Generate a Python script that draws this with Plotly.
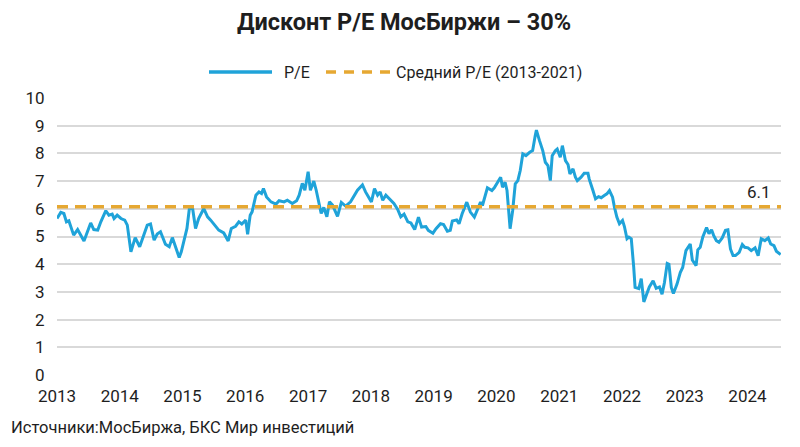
import plotly.graph_objects as go

dates = [
"2013-01-01","2013-01-23","2013-02-10","2013-02-25","2013-03-11","2013-04-08","2013-05-01","2013-06-07",
"2013-07-16","2013-08-03","2013-08-26","2013-09-13","2013-10-12","2013-10-30","2013-11-18","2013-11-29",
"2013-12-17","2014-01-08","2014-01-30","2014-02-14","2014-03-07","2014-04-01","2014-04-27","2014-05-19",
"2014-06-10","2014-06-29","2014-07-20","2014-08-07","2014-08-26","2014-09-24","2014-10-16","2014-11-03",
"2014-11-22","2014-12-13","2014-12-25","2015-01-12","2015-01-27","2015-02-10","2015-03-01","2015-03-18",
"2015-04-05","2015-05-05","2015-05-27","2015-06-14","2015-07-13","2015-07-31","2015-08-29","2015-09-24",
"2015-10-12","2015-11-06","2015-11-25","2015-12-12","2016-01-04","2016-01-15","2016-01-30","2016-02-10",
"2016-03-03","2016-03-21","2016-04-05","2016-04-16","2016-05-04","2016-05-30","2016-06-28","2016-07-16",
"2016-08-14","2016-09-02","2016-10-01","2016-10-26","2016-11-10","2016-11-28","2016-12-13","2017-01-01",
"2017-01-14","2017-02-03","2017-02-17","2017-03-08","2017-03-18","2017-04-02","2017-04-20","2017-05-05",
"2017-05-23","2017-06-21","2017-07-13","2017-08-07","2017-09-05","2017-10-15","2017-11-13","2017-12-01",
"2017-12-20","2018-01-04","2018-01-22","2018-02-09","2018-02-24","2018-03-11","2018-03-29","2018-04-27",
"2018-05-15","2018-06-06","2018-06-24","2018-07-13","2018-08-04","2018-08-22","2018-09-13","2018-10-05",
"2018-10-23","2018-11-17","2018-12-01","2018-12-28","2019-01-15","2019-02-10","2019-02-28","2019-03-22",
"2019-04-08","2019-04-20","2019-05-15","2019-05-29","2019-06-16","2019-07-13","2019-08-03","2019-08-26",
"2019-10-01","2019-10-12","2019-11-10","2019-12-06","2019-12-20","2020-01-26","2020-02-06","2020-02-21",
"2020-03-03","2020-03-11","2020-03-21","2020-04-05","2020-04-20","2020-05-05","2020-05-19","2020-06-03",
"2020-06-21","2020-07-13","2020-07-30","2020-08-14","2020-08-21","2020-09-08","2020-09-27","2020-10-12",
"2020-10-27","2020-11-10","2020-11-21","2020-12-09","2020-12-20","2021-01-07","2021-01-19","2021-02-06",
"2021-02-21","2021-03-04","2021-03-22","2021-04-05","2021-04-16","2021-05-08","2021-05-26","2021-06-17",
"2021-06-24","2021-07-16","2021-07-31","2021-08-18","2021-09-02","2021-09-20","2021-10-05","2021-10-20",
"2021-11-07","2021-11-18","2021-12-02","2021-12-17","2022-01-04","2022-01-15","2022-01-30","2022-02-10",
"2022-02-24","2022-03-10","2022-03-18","2022-04-09","2022-04-23","2022-05-08","2022-05-23","2022-06-09",
"2022-07-01","2022-07-19","2022-08-07","2022-08-22","2022-09-05","2022-09-21","2022-10-01","2022-10-15",
"2022-10-27","2022-11-17","2022-12-06","2022-12-20","2023-01-08","2023-01-19","2023-02-02","2023-02-14",
"2023-03-08","2023-03-18","2023-04-01","2023-04-16","2023-05-08","2023-05-22","2023-06-06","2023-06-18",
"2023-07-04","2023-07-19","2023-08-07","2023-08-26","2023-09-09","2023-09-24","2023-10-09","2023-10-23",
"2023-11-14","2023-12-02","2023-12-16","2024-01-04","2024-01-23","2024-02-14","2024-03-03","2024-03-21",
"2024-04-11","2024-05-01","2024-05-15","2024-06-03","2024-06-17","2024-07-12",
]

pe = [
5.65,5.87,5.83,5.53,5.57,5.05,5.25,4.84,
5.49,5.25,5.23,5.53,5.93,5.77,5.81,5.65,
5.77,5.65,5.59,5.41,4.45,4.96,4.63,5.05,
5.41,5.45,4.87,5.09,5.17,4.72,4.63,4.96,
4.63,4.24,4.45,4.87,5.29,6.01,6.01,5.29,
5.65,6.01,5.71,5.59,5.35,5.23,5.13,4.84,
5.29,5.37,5.53,5.45,5.59,5.08,5.77,5.89,
6.49,6.61,6.55,6.73,6.43,6.25,6.17,6.29,
6.25,6.31,6.19,6.29,6.49,6.92,6.67,7.34,
6.67,7.00,6.67,6.19,5.83,6.05,5.71,6.25,
6.13,5.73,6.23,6.10,6.25,6.67,6.86,6.61,
6.43,6.25,6.73,6.49,6.61,6.31,6.49,6.31,
6.19,5.98,5.71,5.81,5.53,5.49,5.25,5.70,
5.34,5.36,5.22,5.12,5.28,5.46,5.43,5.19,
5.22,5.56,5.60,5.46,5.82,6.24,5.88,5.70,
6.24,6.12,6.76,6.66,6.76,7.14,6.78,6.96,
6.66,6.06,5.28,5.94,6.90,7.02,7.38,7.98,
7.92,8.04,8.10,8.64,8.84,8.46,8.10,7.68,
7.56,7.02,7.92,8.10,8.16,7.86,8.28,7.74,
7.60,7.26,7.44,7.14,7.02,7.14,7.28,7.28,
7.08,6.66,6.36,6.44,6.40,6.48,6.54,6.66,
6.42,6.06,5.70,5.46,5.58,5.36,4.92,4.98,
4.92,3.90,3.16,3.12,3.48,2.64,2.88,3.18,
3.40,3.13,3.18,2.92,3.34,4.03,4.00,3.16,
2.94,3.28,3.70,3.88,4.49,4.61,4.73,4.15,
3.95,4.52,4.61,4.98,5.32,5.10,5.24,5.04,
4.85,4.79,4.95,5.22,5.24,4.55,4.31,4.31,
4.43,4.71,4.61,4.59,4.49,4.59,4.31,4.92,
4.85,4.95,4.73,4.67,4.47,4.35,
]

avg_value = 6.07
avg_label = "6.1"
avg_span = ["2013-01-01", "2024-07-14"]
year_ticks = ["2013-01-01","2014-01-01","2015-01-01","2016-01-01","2017-01-01","2018-01-01",
              "2019-01-01","2020-01-01","2021-01-01","2022-01-01","2023-01-01","2024-01-01"]
year_labels = ["2013","2014","2015","2016","2017","2018","2019","2020","2021","2022","2023","2024"]
y_ticks = [0,1,2,3,4,5,6,7,8,9,10]

title_text = "Дисконт P/E МосБиржи – 30%"
source_text = "Источники:МосБиржа, БКС Мир инвестиций"
series_name = "P/E"
avg_name = "Средний P/E (2013-2021)"

BLUE = "#1FA3D9"
ORANGE = "#E6A832"
TEXT = "#1E1E1E"
FONT = "Roboto, Inter, sans-serif"
DASH = "11px,7px"

# page body has an 8px margin, so the figure is 792x439
W, H = 792, 439
ML, MR, MT, MB = 49, 19, 90, 72
PW, PH = W - ML - MR, H - MT - MB

def px(fx):
    return (fx - ML) / PW

def py(fy):
    return 1 + (MT - fy) / PH

fig = go.Figure()
fig.add_trace(go.Scatter(
    x=dates, y=pe, mode="lines", name=series_name,
    line=dict(color=BLUE, width=3), showlegend=False,
))
fig.add_trace(go.Scatter(
    x=avg_span, y=[avg_value, avg_value], mode="lines",
    name=avg_name, showlegend=False,
    line=dict(color=ORANGE, width=3.5, dash=DASH),
))

fig.add_annotation(
    x=avg_span[1], y=avg_value, text=avg_label, showarrow=False,
    xanchor="right", yanchor="bottom", xshift=-8, yshift=3,
    font=dict(size=17, color=TEXT, family=FONT),
)

# legend drawn as shapes + text
LEG_Y = py(64)
fig.add_shape(type="line", xref="paper", yref="paper", x0=px(201), x1=px(264), y0=LEG_Y, y1=LEG_Y,
              line=dict(color=BLUE, width=3.5))
fig.add_annotation(x=px(274), y=LEG_Y, xref="paper", yref="paper", xanchor="left", yanchor="middle",
                   text=series_name, showarrow=False, font=dict(size=16, color=TEXT, family=FONT))
fig.add_shape(type="line", xref="paper", yref="paper", x0=px(318), x1=px(382), y0=LEG_Y, y1=LEG_Y,
              line=dict(color=ORANGE, width=3.5, dash="10px,8px"))
fig.add_annotation(x=px(386), y=LEG_Y, xref="paper", yref="paper", xanchor="left", yanchor="middle",
                   text=avg_name, showarrow=False, font=dict(size=16, color=TEXT, family=FONT))

fig.add_annotation(
    x=px(1), y=py(419), xref="paper", yref="paper", xanchor="left", yanchor="middle",
    text=source_text, showarrow=False, font=dict(size=16.5, color=TEXT, family=FONT),
)

fig.update_layout(
    width=W, height=H,
    paper_bgcolor="white", plot_bgcolor="white",
    margin=dict(l=ML, r=MR, t=MT, b=MB, autoexpand=False),
    font=dict(family=FONT, color=TEXT),
    title=dict(text="<b>" + title_text + "</b>", x=0.5, xanchor="center",
               y=1 - 14 / H, yanchor="middle", font=dict(size=23.5, color=TEXT, family=FONT)),
    showlegend=False,
)

fig.update_xaxes(
    type="date", range=["2013-01-01", "2024-07-14"],
    tickvals=year_ticks, ticktext=year_labels,
    showgrid=False, zeroline=False, showline=False,
    ticks="outside", ticklen=6, tickcolor="rgba(0,0,0,0)",
    tickfont=dict(size=17, color=TEXT, family=FONT),
)
fig.update_yaxes(
    range=[0, 10], tickvals=y_ticks,
    showgrid=True, gridcolor="#D9D9D9", gridwidth=1.5,
    zeroline=False, showline=False,
    tickfont=dict(size=17, color=TEXT, family=FONT),
    ticks="outside", ticklen=8, tickcolor="rgba(0,0,0,0)",
)

fig.write_html("out.html")
